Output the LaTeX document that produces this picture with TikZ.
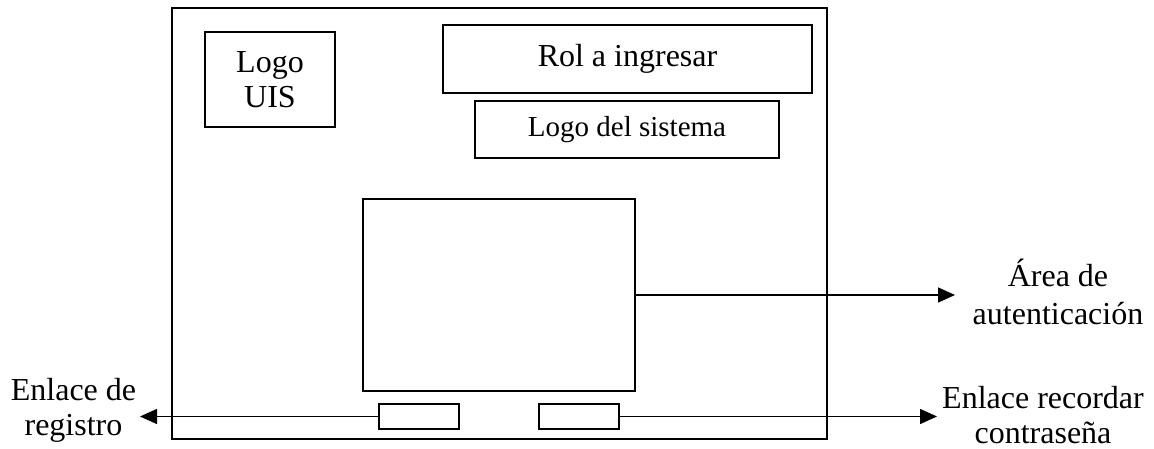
\documentclass[tikz,border=0pt]{standalone}
\usepackage{fontspec}
\setmainfont{Liberation Serif}
\usetikzlibrary{arrows.meta}
\begin{document}
\begin{tikzpicture}[x=1pt,y=-1pt,
  box/.style={draw,line width=1.5pt,rectangle,inner sep=0pt},
  lbl/.style={align=center,inner sep=0pt,font=\fontsize{32}{35}\selectfont},
  conn/.style={line width=1.5pt,-{Triangle[length=17pt,width=15pt]}}]
\useasboundingbox (0,0) rectangle (1154,449);
\node[box,line width=2.2pt,minimum width=655pt,minimum height=431pt] (frame) at (499.5,223.5) {};
\node[box,minimum width=130pt,minimum height=95pt,lbl] (uis) at (270,79.5) {Logo\\UIS};
\node[box,minimum width=369pt,minimum height=68pt,lbl] (rol) at (627.5,59) {Rol a ingresar};
\node[box,minimum width=304pt,minimum height=57pt,font=\fontsize{29}{34}\selectfont] (sis) at (627,129.5) {Logo del sistema};
\node[box,minimum width=272pt,minimum height=192pt] (auth) at (499,295) {};
\node[box,minimum width=80pt,minimum height=25pt] (reg) at (419,416.5) {};
\node[box,minimum width=80pt,minimum height=25pt] (rec) at (579,416.5) {};
\node[lbl,font=\fontsize{32}{38}\selectfont] (lauth) at (1058,291.5) {Área de\\autenticación};
\node[lbl] (lreg) at (73.5,410) {Enlace de\\registro};
\node[lbl] (lrec) at (1043,415.5) {Enlace recordar\\contraseña};
\coordinate (eauth) at (955,295);
\coordinate (ereg) at (140,416.5);
\coordinate (erec) at (937,416.5);
\draw[conn] (auth.east) -- (eauth);
\draw[conn] (reg.west) -- (ereg);
\draw[conn] (rec.east) -- (erec);
\end{tikzpicture}
\end{document}
